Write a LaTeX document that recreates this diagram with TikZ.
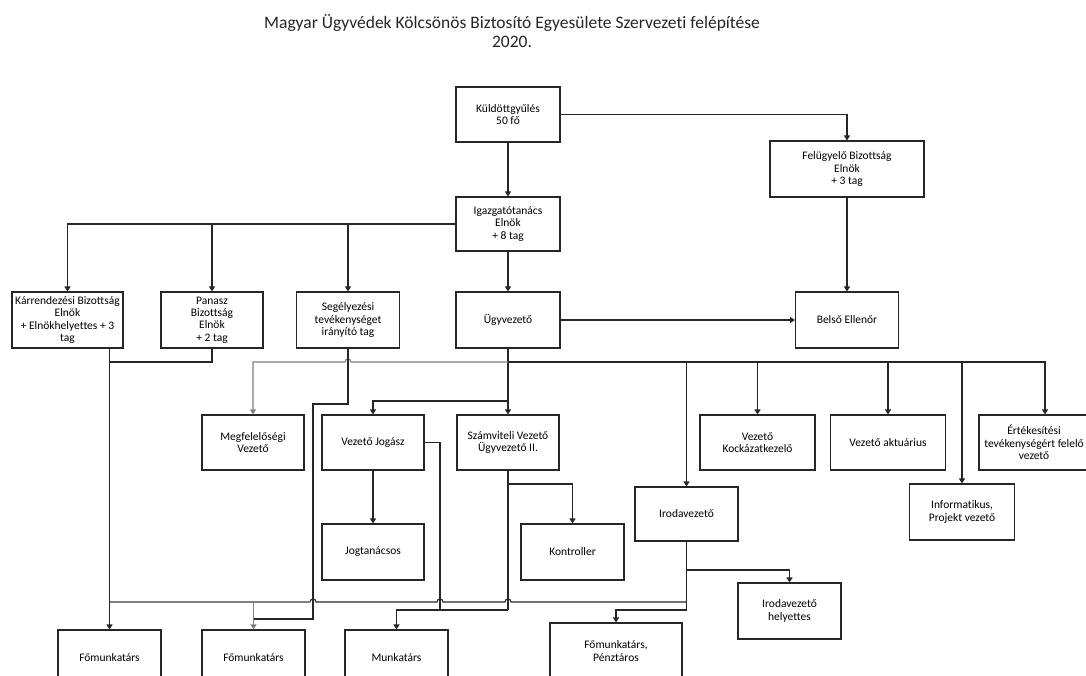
\documentclass[tikz,border=0pt]{standalone}
\usepackage{fontspec}
\setmainfont{Carlito}[Ligatures=NoCommon]
\usetikzlibrary{arrows.meta}
\begin{document}
\begin{tikzpicture}[x=1pt,y=-1pt,
  box/.style={draw=black!85, line width=1.1pt, inner sep=0pt, align=center,
    font=\fontsize{11.5}{12.3}\selectfont, minimum height=55pt},
  con/.style={draw=black!85, line width=1.1pt},
  arr/.style={con, -{Triangle[width=6pt,length=5pt]}},
  gcon/.style={draw=black!50, line width=1.1pt},
  garr/.style={gcon, -{Triangle[width=6pt,length=5pt]}},
  ttl/.style={font=\fontsize{17.5}{19}\selectfont, text=black!85, inner sep=0pt}]
\useasboundingbox (0,0) rectangle (1086,675);
\fill[white] (0,0) rectangle (1086,675);

\node[ttl] (t1) at (512,23) {Magyar Ügyvédek Kölcsönös Biztosító Egyesülete Szervezeti felépítése};
\node[ttl] (t2) at (512,42) {2020.};

\node[box, minimum width=104pt, minimum height=55pt] (kuld) at (508,114.5) {Küldöttgyűlés\\50 fő};
\node[box, minimum width=154pt, minimum height=56pt] (felugy) at (847,169) {Felügyelő Bizottság\\Elnök\\+ 3 tag};
\node[box, minimum width=104pt, minimum height=54pt] (igaz) at (508,224) {Igazgatótanács\\Elnök\\+ 8 tag};

\node[box, minimum width=111pt, minimum height=56pt] (karr) at (67.5,320) {Kárrendezési Bizottság\\Elnök\\+ Elnökhelyettes + 3\\tag};
\node[box, minimum width=102pt, minimum height=56pt] (panasz) at (212,320) {Panasz\\Bizottság\\Elnök\\+ 2 tag};
\node[box, minimum width=103pt, minimum height=56pt] (seg) at (348,320) {Segélyezési\\tevékenységet\\irányító tag};
\node[box, minimum width=104pt, minimum height=56pt] (ugyv) at (508,320) {Ügyvezető};
\node[box, minimum width=103pt, minimum height=56pt] (belso) at (847,320) {Belső Ellenőr};

\node[box, minimum width=102pt] (megf) at (253,442.5) {Megfelelőségi\\Vezető};
\node[box, minimum width=102pt] (vjog) at (373,442.5) {Vezető Jogász};
\node[box, minimum width=102pt] (szamv) at (508,442.5) {Számviteli Vezető\\Ügyvezető II.};
\node[box, minimum width=115pt] (kock) at (757.5,442.5) {Vezető\\Kockázatkezelő};
\node[box, minimum width=115pt] (akt) at (888,442.5) {Vezető aktuárius};
\node[box, minimum width=110pt] (ertek) at (1034,442.5) {Értékesítési\\tevékenységért felelő\\vezető};

\node[box, minimum width=105pt, minimum height=56pt] (inform) at (962,512) {Informatikus,\\Projekt vezető};
\node[box, minimum width=103pt, minimum height=54pt] (iroda) at (686.5,514) {Irodavezető};
\node[box, minimum width=103pt, minimum height=56pt] (kontr) at (572.5,552) {Kontroller};
\node[box, minimum width=102pt, minimum height=56pt] (jogt) at (373,552) {Jogtanácsos};
\node[box, minimum width=103pt, minimum height=56pt] (irhely) at (789.5,611) {Irodavezető\\helyettes};

\node[box, minimum width=132pt, minimum height=56pt] (fmp) at (616,651) {Főmunkatárs,\\Pénztáros};
\node[box, minimum width=103pt, minimum height=56pt] (fm1) at (109.5,658) {Főmunkatárs};
\node[box, minimum width=103pt, minimum height=56pt] (fm2) at (253.5,658) {Főmunkatárs};
\node[box, minimum width=103pt, minimum height=56pt] (munk) at (396.5,658) {Munkatárs};

% coordinates of junctions
\coordinate (bus) at (508,362);
\coordinate (jb) at (508,401);
\coordinate (kj) at (508,484);
\coordinate (mj) at (508,610);
\coordinate (mj2) at (440,610);
\coordinate (pj) at (109.5,362);
\coordinate (ij) at (686.5,570);
\coordinate (ij3) at (686.5,602);
\coordinate (ij2) at (686.5,610);
\coordinate (sj) at (253.5,619);

% top part
\draw[arr] (kuld) -- (igaz);
\draw[arr] (kuld.east) -| (felugy.north);
\draw[arr] (igaz.west) -| (karr.north);
\draw[arr] (igaz.west -| panasz.north) -- (panasz.north);
\draw[arr] (igaz.west -| seg.north) -- (seg.north);
\draw[arr] (igaz) -- (ugyv);
\draw[arr] (felugy) -- (belso);
\draw[arr] (ugyv) -- (belso);

% Ugyvezeto bus
\draw[arr] (ugyv) -- (szamv);
\draw[arr] (bus) -| ([xshift=11pt]ertek.north);
\draw[arr] (bus -| iroda.north) -- (iroda.north);
\draw[arr] (bus -| kock.north) -- (kock.north);
\draw[arr] (bus -| akt.north) -- (akt.north);
\draw[arr] (bus -| inform.north) -- (inform.north);
\draw[arr] (jb) -| (vjog.north);

% Megfeleloseg (grey, hops over Segelyezesi line)
\draw[garr] (bus) -- (351,362) .. controls (351,358) and (345,358) .. (345,362) -| (megf.north);

% Segelyezesi down to Fomunkatars 2
\draw[con] (seg.south) -- (348,404) -- (313,404) -- (313,619) -- (sj);

% Karrendezesi and Panasz to Fomunkatars 1
\draw[arr] (karr.south -| fm1.north) -- (fm1.north);
\draw[con] (panasz.south) |- (pj);

% Vezeto Jogasz
\draw[arr] (vjog) -- (jogt);
\draw[con] (vjog.east) -| (mj2);

% Szamviteli
\draw[con] (szamv.south) -- (mj);
\draw[arr] (mj) -| (munk.north);
\draw[arr] (kj) -| (kontr.north);

% Irodavezeto
\draw[con] (iroda.south) -- (ij2);
\draw[arr] (ij2) -| (fmp.north);
\draw[arr] (ij) -| (irhely.north);
\draw[con] (ij3) -- (511,602) .. controls (511,598) and (505,598) .. (505,602)
  -- (443,602) .. controls (443,598) and (437,598) .. (437,602)
  -- (316,602) .. controls (316,598) and (310,598) .. (310,602);
\draw[gcon] (310,602) -- (109.5,602);
\draw[garr] (fm2.north |- ij3) -- (fm2.north);
\end{tikzpicture}
\end{document}
